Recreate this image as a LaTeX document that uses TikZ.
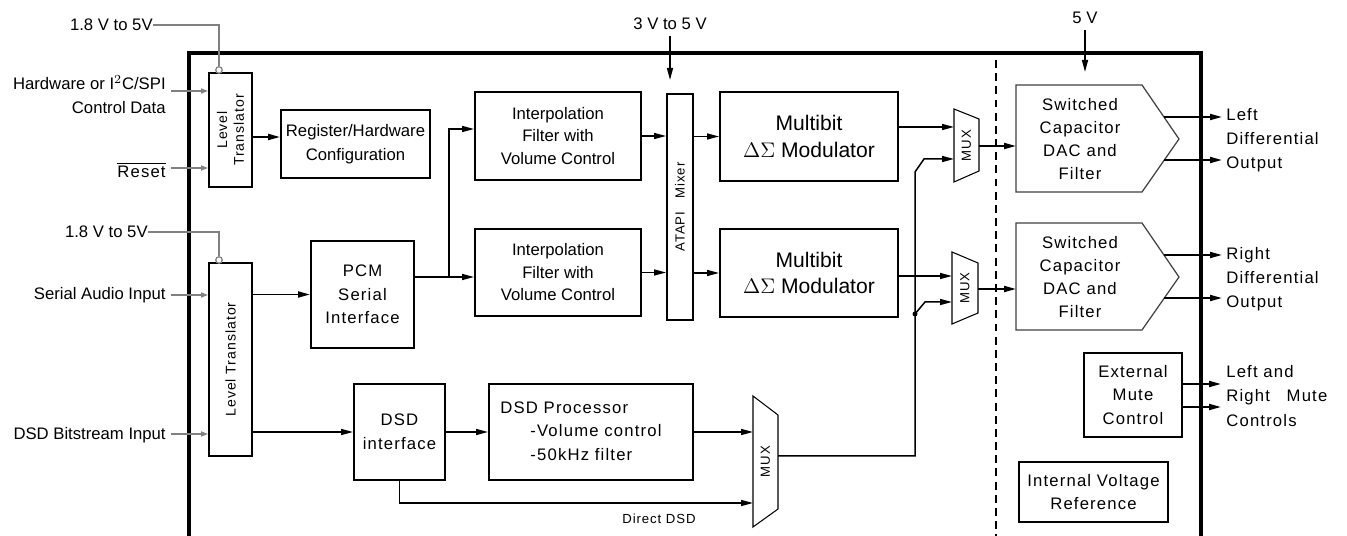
\documentclass[tikz,border=0pt]{standalone}
\usepackage{fontspec}
\setmainfont{Liberation Sans}
\newfontfamily\spc{Liberation Sans}[LetterSpace=7]
\usetikzlibrary{arrows.meta, positioning, calc}

\begin{document}
\begin{tikzpicture}[x=0.02cm, y=-0.02cm,
  font=\fontsize{9.5}{13.5}\selectfont,
  blk/.style={draw, line width=1.1pt, align=center, inner sep=0pt},
  txt/.style={inner sep=0pt, align=center},
  sig/.style={line width=0.85pt, -{Triangle[length=0.24cm, width=0.12cm]}},
  gin/.style={draw=gray, line width=0.9pt, -{Triangle[open, length=0.14cm, width=0.1cm]}},
  supply/.style={draw=gray, line width=0.9pt},
  pin/.style={circle, draw=gray, fill=white, line width=0.7pt, inner sep=0pt, minimum size=0.13cm},
  muxline/.style={line width=0.6pt},
  dacline/.style={draw=black!75, line width=0.7pt}]

  \useasboundingbox (0,0) rectangle (1347,536);

  % Chip outline and analog/digital split
  \draw[line width=1.8pt] (189,545) |- (1201,53) -- (1201,545);
  \draw[line width=1.1pt, dash pattern=on 4.5pt off 3pt] (996,60) -- (996,545);

  % Level translators and their inputs
  \node[blk, minimum width=0.86cm, minimum height=2.28cm] (lt1) at (230.5,130) {};
  \node[txt, rotate=90, font=\spc\fontsize{8}{9.5}\selectfont] (lt1t) at (lt1) {Level\\Translator};
  \node[blk, minimum width=0.86cm, minimum height=3.86cm] (lt2) at (230.5,359.5) {};
  \node[txt, rotate=90, font=\spc\fontsize{8}{9.5}\selectfont] (lt2t) at (lt2) {Level Translator};

  \node[pin] (c1) at (219,70) {};
  \node[pin] (c2) at (219,260) {};
  \node[txt, anchor=east] (v1) at (153,25) {1.8 V to 5V};
  \node[txt, anchor=east] (v2) at (148,232) {1.8 V to 5V};
  \draw[supply] (v1.east) -| (c1.north);
  \draw[supply] (v2.east) -| (c2.north);

  \node[txt, anchor=east, align=right] (hw) at (166,94.5) {Hardware or I$^2$C/SPI\\Control Data};
  \node[txt, anchor=east, font=\spc\fontsize{9.5}{13.5}\selectfont] (rst) at (166,170) {$\overline{\mbox{Reset}}$};
  \node[txt, anchor=east] (sai) at (166,295) {Serial Audio Input};
  \node[txt, anchor=east] (dsb) at (166,435) {DSD Bitstream Input};
  \draw[gin] (171,91) -- (lt1.west |- 0,91);
  \draw[gin] (171,168) -- (lt1.west |- 0,168);
  \draw[gin] (171,295) -- (lt2.west |- 0,295);
  \draw[gin] (171,434) -- (lt2.west |- 0,434);

  % Digital blocks
  \node[blk, minimum width=2.98cm, minimum height=1.36cm] (reg) at (355.5,144) {Register/Hardware\\Configuration};
  \node[blk, minimum width=2.06cm, minimum height=2.14cm, font=\spc\fontsize{9.5}{13.5}\selectfont] (pcm) at (362.5,294.5) {PCM\\Serial\\Interface};
  \node[blk, minimum width=3.32cm, minimum height=1.76cm, font=\fontsize{9.5}{12.8}\selectfont] (if1) at (558,136) {Interpolation\\Filter with\\Volume Control};
  \node[blk, minimum width=3.32cm, minimum height=1.74cm, font=\fontsize{9.5}{12.8}\selectfont] (if2) at (558,272.5) {Interpolation\\Filter with\\Volume Control};
  \node[blk, minimum width=0.52cm, minimum height=4.52cm] (atapi) at (680,207) {};
  \node[txt, rotate=90, font=\spc\fontsize{7.5}{9}\selectfont] (atapit) at (atapi) {ATAPI\quad Mixer};
  \node[blk, minimum width=3.56cm, minimum height=1.78cm, font=\fontsize{12}{15}\selectfont] (mb1) at (809,136.5) {Multibit\\$\Delta\Sigma$ Modulator};
  \node[blk, minimum width=3.56cm, minimum height=1.76cm, font=\fontsize{12}{15}\selectfont] (mb2) at (809,273) {Multibit\\$\Delta\Sigma$ Modulator};
  \node[blk, minimum width=1.82cm, minimum height=1.92cm, font=\spc\fontsize{9.5}{13.5}\selectfont] (dsdi) at (399.5,432) {DSD\\interface};
  \node[blk, minimum width=4.08cm, minimum height=1.92cm] (dsdp) at (591,432) {};
  \node[txt, anchor=west, align=left, font=\spc\fontsize{9.5}{13.5}\selectfont] (dsdt) at (500,431)
    {DSD Processor\\\hspace{1.8em}-Volume control\\\hspace{1.8em}-50kHz filter};

  % Multiplexers
  \draw[muxline] (954,109) -- (979,119) -- (979,171) -- (954,182) -- cycle;
  \draw[muxline] (952,252) -- (978,263) -- (978,313) -- (952,324) -- cycle;
  \draw[muxline] (753,396) -- (778,415) -- (778,509) -- (753,527) -- cycle;
  \node[txt, rotate=90, font=\spc\fontsize{7.5}{9}\selectfont] (mux1) at (966.5,145.5) {MUX};
  \node[txt, rotate=90, font=\spc\fontsize{7.5}{9}\selectfont] (mux2) at (965,288) {MUX};
  \node[txt, rotate=90, font=\spc\fontsize{7.5}{9}\selectfont] (mux3) at (765.5,461.5) {MUX};
  \coordinate (m1a) at (954,127);
  \coordinate (m1b) at (954,159);
  \coordinate (m1o) at (979,146);
  \coordinate (m2a) at (952,276);
  \coordinate (m2b) at (952,302);
  \coordinate (m2o) at (978,289);
  \coordinate (m3a) at (753,432);
  \coordinate (m3b) at (753,503);
  \coordinate (m3o) at (778,456);

  % Analog section
  \draw[dacline] (1016,85) -- (1142,85) -- (1179,139) -- (1142,192) -- (1016,192) -- cycle;
  \draw[dacline] (1016,223) -- (1142,223) -- (1179,277) -- (1142,330) -- (1016,330) -- cycle;
  \node[txt, font=\spc\fontsize{9.5}{13}\selectfont] (dac1) at (1080,139) {Switched\\Capacitor\\DAC and\\Filter};
  \node[txt, font=\spc\fontsize{9.5}{13}\selectfont] (dac2) at (1080,277) {Switched\\Capacitor\\DAC and\\Filter};
  \coordinate (d1in) at (1016,146);
  \coordinate (d2in) at (1016,289);
  \node[blk, minimum width=1.96cm, minimum height=1.68cm, font=\spc\fontsize{9.5}{13.5}\selectfont] (mute) at (1133,395) {External\\Mute\\Control};
  \node[blk, minimum width=2.98cm, minimum height=1.2cm, font=\spc\fontsize{9.5}{13.5}\selectfont] (vref) at (1093.5,492) {Internal Voltage\\Reference};

  % Supplies
  \node[txt] (v3) at (670,24) {3 V to 5 V};
  \node[txt] (v4) at (1085,18) {5 V};
  \draw[sig] (670,36) -- (670,80);
  \draw[sig] (1085,30) -- (1085,72);

  % Signal flow
  \coordinate (ltr) at (252,137);
  \draw[sig, line width=1.1pt] (ltr) -- (reg.west |- ltr);
  \draw[sig, line width=1.1pt] (lt2.east |- pcm.west) -- (pcm.west);
  \draw[sig] (lt2.east |- dsdi.west) -- (dsdi.west);
  \coordinate (br) at (449,277);
  \draw[sig] (pcm.east |- br) -- (if2.west |- br);
  \draw[sig] (br) |- (if1.west |- 0,129);
  \draw[sig] (if1.east) -- (atapi.west |- if1.east);
  \draw[sig] (if2.east) -- (atapi.west |- if2.east);
  \draw[sig] (atapi.east |- mb1.west) -- (mb1.west);
  \draw[sig] (atapi.east |- mb2.west) -- (mb2.west);
  \draw[sig] (mb1.east |- m1a) -- (m1a);
  \draw[sig] (mb2.east |- m2a) -- (m2a);
  \draw[sig] (dsdi.east) -- (dsdp.west);
  \draw[sig] (dsdp.east) -- (m3a);
  \draw[sig] (dsdi.south) |- (m3b);
  \node[txt, font=\spc\fontsize{7.5}{9}\selectfont] (ddsd) at (659,519) {Direct DSD};
  \draw[sig] (m3o) -| (915,172) -- (924,159) -- (m1b);
  \fill (915,314) circle (2.5);
  \draw[sig] (915,314) -- (925,302) -- (m2b);
  \draw[sig, line width=1.1pt] (m1o) -- (d1in);
  \draw[sig, line width=1.1pt] (m2o) -- (d2in);

  % Outputs
  \draw[sig, line width=1.1pt] (1164,117) -- (1222,117);
  \draw[sig, line width=1.1pt] (1164,160) -- (1222,160);
  \draw[sig, line width=1.1pt] (1164,255) -- (1222,255);
  \draw[sig, line width=1.1pt] (1164,298) -- (1222,298);
  \draw[sig, line width=1.1pt] (mute.east |- 0,384) -- (1221,384);
  \draw[sig, line width=1.1pt] (mute.east |- 0,407) -- (1221,407);
  \node[txt, anchor=west, align=left, font=\spc\fontsize{9.5}{13.8}\selectfont] (lout) at (1226,140) {Left\\Differential\\Output};
  \node[txt, anchor=west, align=left, font=\spc\fontsize{9.5}{13.8}\selectfont] (rout) at (1226,279) {Right\\Differential\\Output};
  \node[txt, anchor=west, align=left, font=\spc\fontsize{9.5}{13.8}\selectfont] (mout) at (1226,396) {Left and\\Right\quad Mute\\Controls};
\end{tikzpicture}
\end{document}
